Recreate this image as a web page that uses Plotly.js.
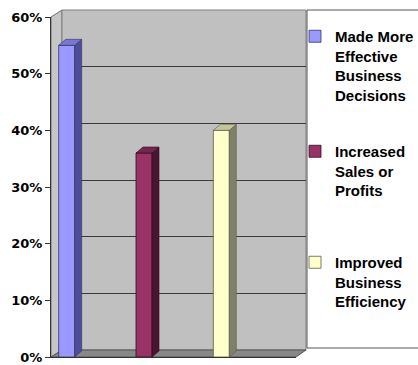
<!DOCTYPE html>
<html>
<head>
<meta charset="utf-8">
<script src="https://cdn.plot.ly/plotly-3.0.1.min.js"></script>
<style>html,body{margin:0;padding:0;background:#fff;}#chart{width:418px;height:365px;}</style>
</head>
<body>
<div id="chart"></div>
<script>
// ---- data ----
const categories = [
  'Made More<br>Effective<br>Business<br>Decisions',
  'Increased<br>Sales or<br>Profits',
  'Improved<br>Business<br>Efficiency'
];
const values = [55, 36, 40];
const tickValues = [0, 10, 20, 30, 40, 50, 60];
const tickLabels = ['0%', '10%', '20%', '30%', '40%', '50%', '60%'];

// ---- styles ----
const frontColors = ['#9999ff', '#993366', '#ffffcc'];
const sideColors = ['#4d4d9a', '#4a1530', '#80806a'];
const topColors = ['#7777cc', '#73264f', '#c4c49c'];
const edgeColors = ['#33336b', '#2e0c1e', '#5a5a48'];

// layout geometry (pixels)
const W = 418, H = 365;
const M = {l: 51, r: 112, t: 10, b: 8, autoexpand: false};
const plotW = W - M.l - M.r, plotH = H - M.t - M.b;
const PL = M.l, PB = H - M.b;
const px = v => (v - PL) / plotW;
const py = v => (PB - v) / plotH;

const xRange = [-0.203, 2.966];
const yRange = [0, 60];
const frontDomX = [0, (296 - PL) / plotW];
const frontDomY = [0, (PB - 17) / plotH];
const barW = 0.207;
// pixel->data scale for the 3D depth faces
const pxPerX = (frontDomX[1] - frontDomX[0]) * plotW / (xRange[1] - xRange[0]);
const pxPerY = (frontDomY[1] - frontDomY[0]) * plotH / (yRange[1] - yRange[0]);
const dX = 7 / pxPerX, dY = 6 / pxPerY;

const traces = [];
// dummy trace on the back-wall subplot (gridlines)
traces.push({x: [0.5], y: [-10], xaxis: 'x', yaxis: 'y', type: 'scatter', mode: 'markers',
  showlegend: false, hoverinfo: 'skip', marker: {opacity: 0}});

const legendIds = ['legend', 'legend2', 'legend3'];
categories.forEach((name, i) => {
  traces.push({
    type: 'bar', x: [i], y: [values[i]], width: barW, name: name,
    xaxis: 'x2', yaxis: 'y2', legend: legendIds[i],
    marker: {color: frontColors[i], line: {color: edgeColors[i], width: 0.8}},
    hoverinfo: 'skip'
  });
});
categories.forEach((name, i) => {
  const v = values[i], xl = i - barW / 2, xr = i + barW / 2;
  traces.push({
    type: 'scatter', mode: 'lines', fill: 'toself', xaxis: 'x2', yaxis: 'y2',
    x: [xr, xr + dX, xr + dX, xr, xr], y: [0, dY, v + dY, v, 0],
    fillcolor: sideColors[i], line: {color: edgeColors[i], width: 0.6},
    showlegend: false, hoverinfo: 'skip'
  });
  traces.push({
    type: 'scatter', mode: 'lines', fill: 'toself', xaxis: 'x2', yaxis: 'y2',
    x: [xl, xl + dX, xr + dX, xr, xl], y: [v, v + dY, v + dY, v, v],
    fillcolor: topColors[i], line: {color: edgeColors[i], width: 0.6},
    showlegend: false, hoverinfo: 'skip'
  });
});

const legFont = {family: 'Liberation Sans, Arial, sans-serif', size: 15, weight: 'bold', color: '#000'};
function leg(topPx) {
  return {x: px(295), xanchor: 'left', y: py(topPx), yanchor: 'top',
    bgcolor: 'rgba(0,0,0,0)', borderwidth: 0, font: legFont, valign: 'top',
    itemclick: false, itemdoubleclick: false};
}

const layout = {
  width: W, height: H,
  margin: M,
  paper_bgcolor: '#ffffff',
  plot_bgcolor: 'rgba(0,0,0,0)',
  showlegend: true,
  barmode: 'overlay',
  legend: leg(20), legend2: leg(135), legend3: leg(246),
  xaxis: {domain: [(62 - PL) / plotW, 1], range: [0, 1], visible: false, fixedrange: true},
  yaxis: {domain: [(PB - 350) / plotH, 1], range: yRange, anchor: 'x',
    showgrid: true, gridcolor: '#3a3a3a', gridwidth: 1, tick0: 0, dtick: 10,
    showticklabels: false, ticks: '', zeroline: false, showline: false, fixedrange: true},
  xaxis2: {domain: frontDomX, range: xRange, anchor: 'y2',
    showline: true, linecolor: '#333', linewidth: 1, showticklabels: false, ticks: '',
    showgrid: false, zeroline: false, fixedrange: true},
  yaxis2: {domain: frontDomY, range: yRange, anchor: 'x2',
    tickmode: 'array', tickvals: tickValues, ticktext: tickLabels,
    ticks: 'outside', ticklen: 5, tickcolor: '#333', tickwidth: 1,
    showline: true, linecolor: '#333', linewidth: 1,
    showgrid: false, zeroline: false, fixedrange: true,
    tickfont: {family: 'DejaVu Sans, Arial, sans-serif', size: 13, weight: 'bold', color: '#000'}},
  shapes: [
    {type: 'path', xref: 'paper', yref: 'paper', layer: 'below',
      path: `M${px(51)},${py(17)} L${px(62)},${py(10)} L${px(62)},${py(350)} L${px(51)},${py(357)} Z`,
      fillcolor: '#c6c6c6', line: {color: '#707070', width: 1}},
    {type: 'rect', xref: 'paper', yref: 'paper', layer: 'below',
      x0: px(62), x1: px(306), y0: py(350), y1: py(10),
      fillcolor: '#c0c0c0', line: {color: '#808080', width: 1}},
    {type: 'path', xref: 'paper', yref: 'paper', layer: 'below',
      path: `M${px(51)},${py(357)} L${px(62)},${py(350)} L${px(306)},${py(350)} L${px(296)},${py(357)} Z`,
      fillcolor: '#888888', line: {color: '#555555', width: 1}},
    {type: 'rect', xref: 'paper', yref: 'paper', layer: 'below',
      x0: px(307), x1: px(425), y0: py(348), y1: py(10),
      fillcolor: '#ffffff', line: {color: '#555555', width: 1}}
  ]
};

Plotly.newPlot('chart', traces, layout, {displayModeBar: false, staticPlot: true});
</script>
</body>
</html>
